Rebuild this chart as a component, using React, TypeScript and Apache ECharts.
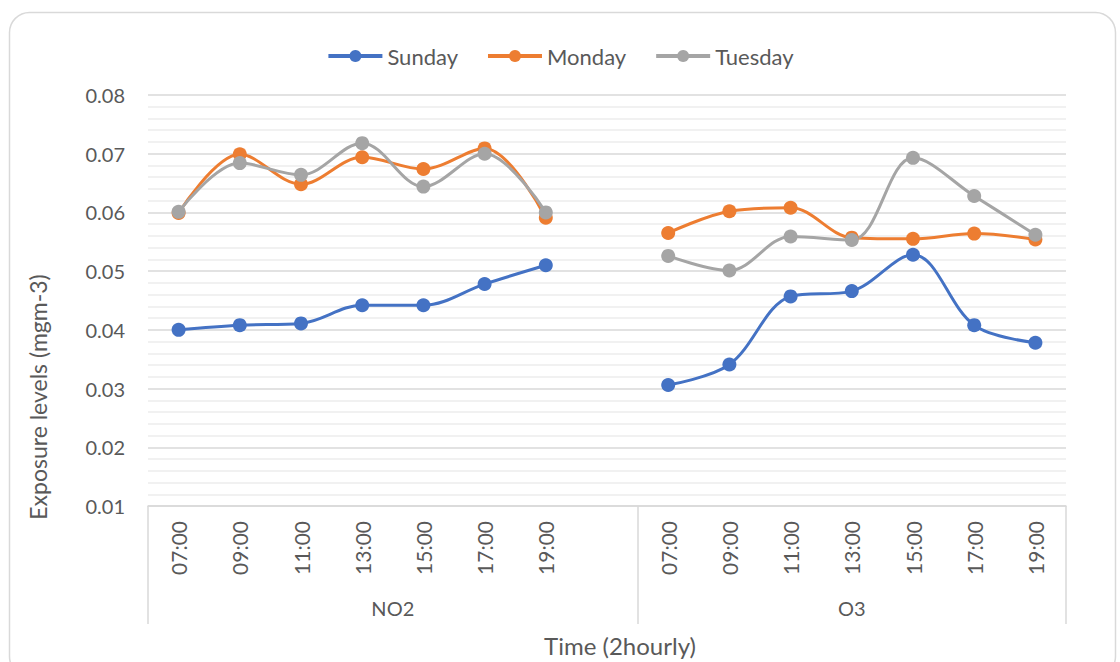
import React, { useEffect, useRef } from "react";
import * as echarts from "echarts";

const times = ["07:00", "09:00", "11:00", "13:00", "15:00", "17:00", "19:00"];
const groups = ["NO2", "O3"];
const groupSizes = [8, 7]; // NO2 group holds one empty slot after 19:00
const categories = [...times, "", ...times];

const sundayNO2 = [0.04, 0.0408, 0.0411, 0.0442, 0.0442, 0.0478, 0.051];
const mondayNO2 = [0.0599, 0.0699, 0.0648, 0.0694, 0.0674, 0.0709, 0.0591];
const tuesdayNO2 = [0.0601, 0.0684, 0.0664, 0.0718, 0.0644, 0.07, 0.06];

const sundayO3 = [0.0306, 0.0341, 0.0457, 0.0466, 0.0528, 0.0408, 0.0378];
const mondayO3 = [0.0565, 0.0602, 0.0608, 0.0557, 0.0555, 0.0564, 0.0554];
const tuesdayO3 = [0.0526, 0.0501, 0.0559, 0.0553, 0.0693, 0.0628, 0.0562];

const seriesNames = ["Sunday", "Monday", "Tuesday"];
const colors = ["#4472C4", "#ED7D31", "#A5A5A5"];

const yTicks = [0.01, 0.08, 0.01]; // min, max, interval
const yTitle = "Exposure levels (mgm-3)";
const xTitle = "Time (2hourly)";

export default function App() {
  const ref = useRef<HTMLDivElement>(null);
  useEffect(() => {
    if (!ref.current) return;
    const chart = echarts.init(ref.current, null, { renderer: "svg" });
    const join = (a: number[], b: number[]) => [...a, null, ...b];
    const dataSets = [
      join(sundayNO2, sundayO3),
      join(mondayNO2, mondayO3),
      join(tuesdayNO2, tuesdayO3),
    ];
    const bounds: number[] = [0];
    groupSizes.forEach((s) => bounds.push(bounds[bounds.length - 1] + s));
    const mids = groupSizes.map((s, i) => bounds[i] + s / 2);
    const font = "Lato, 'Open Sans', sans-serif";
    const textColor = "#595959";
    chart.setOption({
      animation: false,
      textStyle: { fontFamily: font },
      graphic: [
        {
          type: "rect",
          shape: { x: 9.5, y: 12.5, width: 1106, height: 664, r: 20 },
          style: { fill: "none", stroke: "#d9d9d9", lineWidth: 1.5 },
          silent: true,
        },
        {
          type: "text",
          x: 38,
          y: 397,
          rotation: Math.PI / 2,
          style: {
            text: yTitle,
            fill: textColor,
            fontSize: 23,
            fontFamily: font,
            textAlign: "center",
            textVerticalAlign: "middle",
          },
        },
      ],
      legend: {
        top: 40,
        left: "center",
        itemWidth: 54,
        itemHeight: 15,
        itemGap: 28,
        lineStyle: { width: 4 },
        textStyle: { color: textColor, fontSize: 22, fontFamily: font },
        data: seriesNames,
      },
      grid: { left: 148, right: 54, top: 95, bottom: 152 },
      xAxis: [
        {
          type: "category",
          data: categories,
          boundaryGap: true,
          axisLine: { show: true, lineStyle: { color: "#d9d9d9", width: 1.5 } },
          axisTick: { show: false },
          axisLabel: {
            interval: 0,
            rotate: 90,
            margin: 15,
            color: textColor,
            fontSize: 21,
            fontFamily: font,
          },
          splitLine: { show: false },
        },
        {
          type: "value",
          min: 0,
          max: categories.length,
          position: "bottom",
          axisLine: { show: false },
          splitLine: { show: false },
          axisTick: {
            show: true,
            customValues: bounds,
            length: 118,
            lineStyle: { color: "#d9d9d9", width: 1.5 },
          },
          axisLabel: {
            show: true,
            customValues: mids,
            formatter: (v: number) => {
              const i = mids.findIndex((m) => Math.abs(m - v) < 1e-6);
              return i >= 0 ? groups[i] : "";
            },
            margin: 92,
            color: textColor,
            fontSize: 20,
            fontFamily: font,
          },
          name: xTitle,
          nameLocation: "middle",
          nameGap: 127,
          nameTextStyle: {
            color: textColor,
            fontSize: 24,
            fontFamily: font,
            padding: [0, 0, 0, 26],
          },
        },
      ],
      yAxis: {
        type: "value",
        min: yTicks[0],
        max: yTicks[1],
        interval: yTicks[2],
        axisLine: { show: false },
        axisTick: { show: false },
        axisLabel: {
          formatter: (v: number) => v.toFixed(2),
          color: textColor,
          fontSize: 20,
          margin: 23,
          fontFamily: font,
        },
        splitLine: { show: true, lineStyle: { color: "#d9d9d9", width: 1.5 } },
        minorTick: { show: false, splitNumber: 5 },
        minorSplitLine: { show: true, lineStyle: { color: "#ececec", width: 1.5 } },
      },
      series: seriesNames.map((name, i) => ({
        name,
        type: "line",
        xAxisIndex: 0,
        data: dataSets[i],
        smooth: 0.35,
        connectNulls: false,
        symbol: "circle",
        symbolSize: 14,
        itemStyle: { color: colors[i] },
        lineStyle: { color: colors[i], width: 3 },
      })),
    });
    return () => chart.dispose();
  }, []);
  return (
    <div
      ref={ref}
      style={{ position: "fixed", left: 0, top: 0, width: 1120, height: 662, background: "#fff" }}
    />
  );
}
